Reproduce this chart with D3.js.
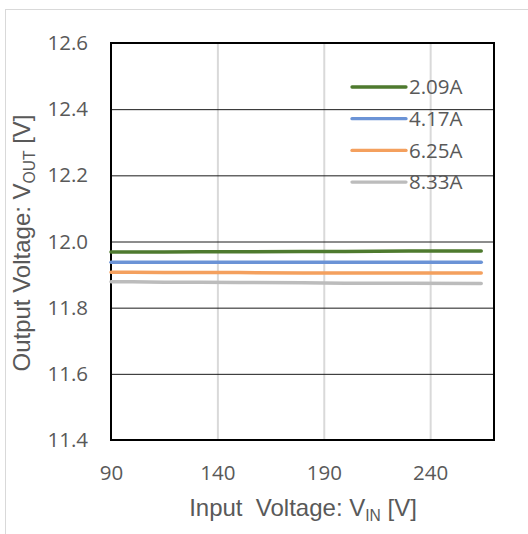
<!DOCTYPE html>
<html>
<head>
<meta charset="utf-8">
<script src="https://cdn.jsdelivr.net/npm/d3@7"></script>
<style>
  html, body { margin: 0; padding: 0; background: #fff; }
  svg { display: block; }
  text { white-space: pre; }
</style>
</head>
<body>
<svg id="chart" width="528" height="534"></svg>
<script>
// Input voltage sweep points [V]
const inputVoltage = [90, 100, 115, 132, 150, 180, 200, 230, 264];

// Output voltage [V] for each load current
const out209A = [11.968, 11.968, 11.968, 11.969, 11.969, 11.970, 11.970, 11.971, 11.971];
const out417A = [11.937, 11.937, 11.937, 11.937, 11.937, 11.937, 11.937, 11.937, 11.937];
const out625A = [11.907, 11.907, 11.906, 11.906, 11.906, 11.905, 11.905, 11.905, 11.905];
const out833A = [11.878, 11.878, 11.877, 11.877, 11.876, 11.875, 11.874, 11.874, 11.873];

const seriesNames = ["2.09A", "4.17A", "6.25A", "8.33A"];
const seriesColors = ["#4e7a2e", "#6b93d6", "#f4a05e", "#bcbcbc"];
const seriesValues = [out209A, out417A, out625A, out833A];

const xTicks = [90, 140, 190, 240];
const yTicks = [11.4, 11.6, 11.8, 12.0, 12.2, 12.4, 12.6];

const svg = d3.select("#chart");
const plot = { left: 111, top: 43, right: 494, bottom: 440 };

const x = d3.scaleLinear().domain([90, 270]).range([plot.left, plot.right]);
const y = d3.scaleLinear().domain([11.4, 12.6]).range([plot.bottom, plot.top]);

const labelColor = "#595959";
const tickFont = "'Open Sans', sans-serif";
const titleFont = "'Liberation Sans', Arial, sans-serif";

// outer chart frame
svg.append("rect")
  .attr("x", 5.5).attr("y", 9.5)
  .attr("width", 560).attr("height", 560)
  .attr("fill", "#fff")
  .attr("stroke", "#d9d9d9").attr("stroke-width", 1);

// vertical gridlines
svg.append("g")
  .attr("transform", `translate(0,${plot.bottom})`)
  .call(d3.axisBottom(x).tickValues(xTicks.slice(1)).tickSize(-(plot.bottom - plot.top)).tickFormat(""))
  .call(g => g.select(".domain").remove())
  .call(g => g.selectAll("line").attr("stroke", "#d9d9d9").attr("stroke-width", 2));

// horizontal gridlines
svg.append("g")
  .attr("transform", `translate(${plot.left},0)`)
  .call(d3.axisLeft(y).tickValues(yTicks.slice(1, -1)).tickSize(-(plot.right - plot.left)).tickFormat(""))
  .call(g => g.select(".domain").remove())
  .call(g => g.selectAll("line").attr("stroke", "#1a1a1a").attr("stroke-width", 1));

// plot border
svg.append("rect")
  .attr("x", plot.left).attr("y", plot.top)
  .attr("width", plot.right - plot.left).attr("height", plot.bottom - plot.top)
  .attr("fill", "none").attr("stroke", "#000").attr("stroke-width", 2);

// tick labels via axes
svg.append("g")
  .attr("transform", `translate(0,${plot.bottom})`)
  .call(d3.axisBottom(x).tickValues(xTicks).tickSize(0).tickPadding(25).tickFormat(d3.format("d")))
  .call(g => g.select(".domain").remove())
  .call(g => g.selectAll("text").attr("fill", labelColor).attr("font-family", tickFont).attr("font-size", 20.5));

svg.append("g")
  .attr("transform", `translate(${plot.left},0)`)
  .call(d3.axisLeft(y).tickValues(yTicks).tickSize(0).tickPadding(23).tickFormat(d3.format(".1f")))
  .call(g => g.select(".domain").remove())
  .call(g => g.selectAll("text").attr("fill", labelColor).attr("font-family", tickFont).attr("font-size", 20.5));

// data lines
const line = d3.line().x((d, i) => x(inputVoltage[i])).y(d => y(d));
seriesValues.forEach((vals, k) => {
  svg.append("path")
    .datum(vals)
    .attr("d", line)
    .attr("fill", "none")
    .attr("stroke", seriesColors[k])
    .attr("stroke-width", 3.5)
    .attr("stroke-linecap", "round")
    .attr("stroke-linejoin", "round");
});

// legend
const legend = svg.append("g").attr("transform", "translate(352,87)");
seriesNames.forEach((name, k) => {
  const row = legend.append("g").attr("transform", `translate(0,${k * 31.7})`);
  row.append("line")
    .attr("x1", 0).attr("x2", 54).attr("y1", 0).attr("y2", 0)
    .attr("stroke", seriesColors[k]).attr("stroke-width", 3.3)
    .attr("stroke-linecap", "round");
  row.append("text")
    .attr("x", 57).attr("y", 0).attr("dy", "0.36em")
    .attr("fill", labelColor).attr("font-family", tickFont).attr("font-size", 20.5)
    .text(name);
});

// axis titles
const xTitle = svg.append("text")
  .attr("x", 303).attr("y", 516)
  .attr("text-anchor", "middle")
  .attr("fill", labelColor).attr("font-family", titleFont).attr("font-size", 24);
xTitle.append("tspan").text("Input  Voltage: V");
xTitle.append("tspan").attr("font-size", 15.6).attr("dy", 5).text("IN");
xTitle.append("tspan").attr("dy", -5).text(" [V]");

const yTitle = svg.append("text")
  .attr("transform", "translate(30,243) rotate(-90)")
  .attr("text-anchor", "middle")
  .attr("fill", labelColor).attr("font-family", titleFont).attr("font-size", 24);
yTitle.append("tspan").text("Output Voltage: V");
yTitle.append("tspan").attr("font-size", 15.6).attr("dy", 5).text("OUT");
yTitle.append("tspan").attr("dy", -5).text(" [V]");
</script>
</body>
</html>
